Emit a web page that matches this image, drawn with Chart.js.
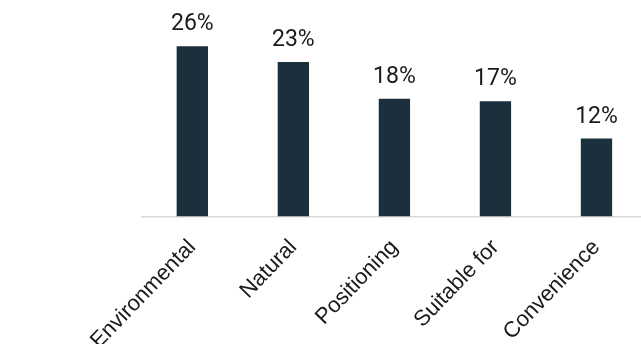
<!DOCTYPE html>
<html>
<head>
<meta charset="utf-8">
<script src="https://cdn.jsdelivr.net/npm/chart.js@4/dist/chart.umd.min.js"></script>
<style>
html,body{margin:0;padding:0;background:#fff;overflow:hidden;width:641px;height:344px;}
#wrap{position:absolute;left:0;top:0;width:647px;height:344px;}
</style>
</head>
<body>
<div id="wrap"><canvas id="c" width="647" height="344"></canvas></div>
<script>
const categories = ["Environmental", "Natural", "Positioning", "Suitable for", "Convenience"];
const shares = [25.8, 23.4, 17.85, 17.45, 11.8];
const yMax = 32.8;

const valueLabels = {
  id: 'valueLabels',
  afterDatasetsDraw(chart) {
    const ctx = chart.ctx;
    const meta = chart.getDatasetMeta(0);
    ctx.save();
    ctx.font = '23px Roboto';
    ctx.fillStyle = '#1a1a1a';
    ctx.textAlign = 'center';
    ctx.textBaseline = 'alphabetic';
    meta.data.forEach((bar, i) => {
      ctx.fillText(Math.round(shares[i]) + '%', bar.x, bar.y - 16);
    });
    ctx.restore();
  }
};

new Chart(document.getElementById('c'), {
  type: 'bar',
  data: {
    labels: categories,
    datasets: [{
      data: shares,
      backgroundColor: '#1b2f3c',
      borderWidth: 0,
      barPercentage: 0.31,
      categoryPercentage: 1.0
    }]
  },
  options: {
    responsive: false,
    animation: false,
    layout: { padding: { left: 141.8, right: 0, top: 0, bottom: 0 } },
    plugins: { legend: { display: false }, tooltip: { enabled: false } },
    scales: {
      y: { display: false, min: 0, max: yMax },
      x: {
        grid: { display: false, drawTicks: false },
        border: { display: true, color: '#d9d9d9', width: 1.5 },
        ticks: {
          color: '#1a1a1a',
          font: { family: '"Liberation Sans", Arial, sans-serif', size: 22 },
          maxRotation: 46, minRotation: 46,
          padding: 18,
          autoSkip: false
        },
        afterFit(scale) { scale.height = 127.5; }
      }
    }
  },
  plugins: [valueLabels]
});
</script>
</body>
</html>
